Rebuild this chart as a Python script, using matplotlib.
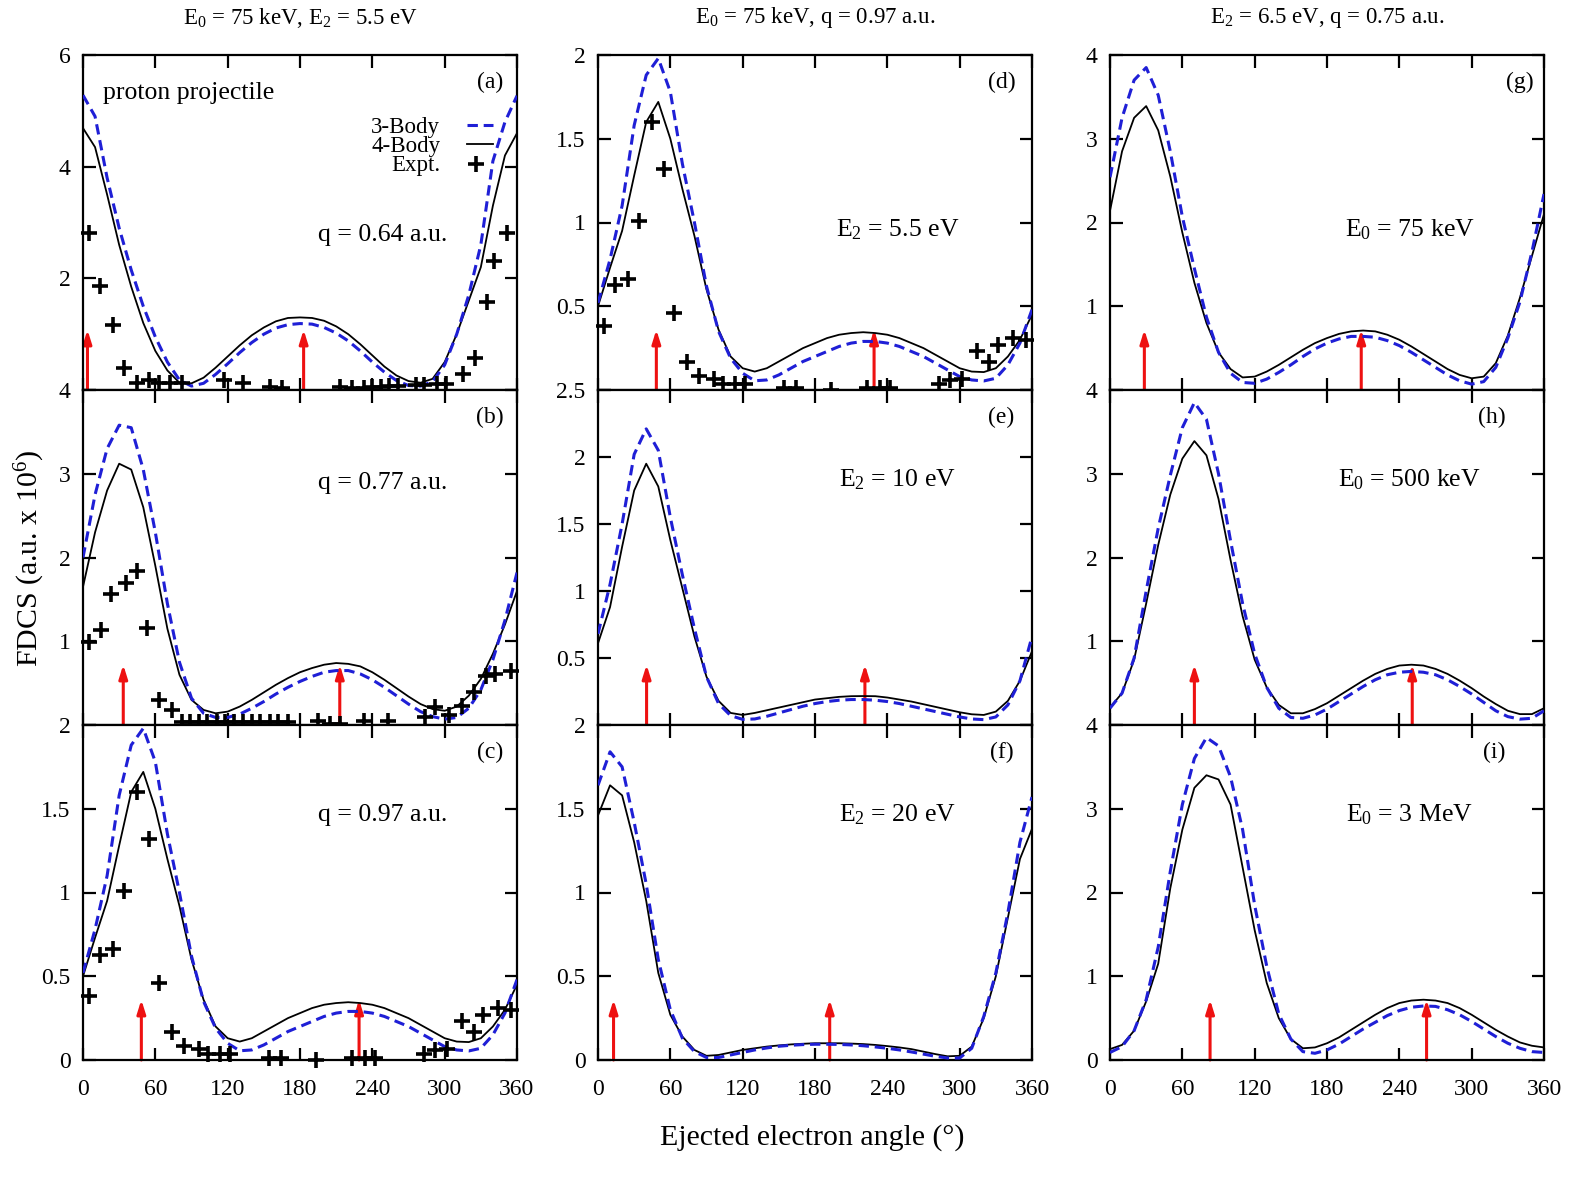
import matplotlib
matplotlib.use("Agg")
import matplotlib.pyplot as plt

plt.rcParams['font.family'] = ['Liberation Serif', 'DejaVu Serif']
plt.rcParams['mathtext.fontset'] = 'custom'
plt.rcParams['mathtext.rm'] = 'Liberation Serif'
plt.rcParams['mathtext.it'] = 'Liberation Serif:italic'

# angle grid of the theory curves (deg)
theta = list(range(0, 361, 10))

# ---- column 1 : E0 = 75 keV, E2 = 5.5 eV ----
body3_a = [5.28, 4.9, 3.8, 2.9, 2.15, 1.5, 0.95, 0.5, 0.18, 0.07, 0.12, 0.28, 0.47,
           0.67, 0.85, 1.0, 1.11, 1.17, 1.19, 1.18, 1.12, 1.02, 0.88, 0.7, 0.5,
           0.32, 0.17, 0.08, 0.07, 0.15, 0.45, 1.0, 1.7, 2.6, 4.1, 4.8, 5.27]
body4_a = [4.69, 4.35, 3.5, 2.6, 1.85, 1.2, 0.7, 0.35, 0.13, 0.12, 0.22, 0.4, 0.6,
           0.8, 0.98, 1.12, 1.23, 1.29, 1.30, 1.29, 1.24, 1.14, 1.0, 0.82, 0.62,
           0.42, 0.26, 0.16, 0.13, 0.2, 0.5, 1.0, 1.6, 2.2, 3.3, 4.2, 4.6]
expt_a_x = [5, 14, 25, 34, 45, 55, 63, 72, 82, 117, 133, 155, 165, 213, 223, 233,
            240, 247, 254, 261, 276, 283, 294, 301, 315, 325, 335, 341, 352]
expt_a_y = [2.82, 1.86, 1.16, 0.39, 0.12, 0.18, 0.12, 0.12, 0.12, 0.18, 0.12, 0.06,
            0.03, 0.06, 0.03, 0.03, 0.06, 0.06, 0.07, 0.07, 0.09, 0.09, 0.1, 0.1,
            0.28, 0.57, 1.58, 2.31, 2.82]

body3_b = [2.0, 2.75, 3.3, 3.58, 3.55, 3.05, 2.3, 1.45, 0.75, 0.32, 0.14, 0.09, 0.09,
           0.13, 0.2, 0.28, 0.37, 0.45, 0.52, 0.58, 0.63, 0.65, 0.65, 0.61, 0.54,
           0.45, 0.35, 0.25, 0.16, 0.1, 0.07, 0.09, 0.2, 0.42, 0.78, 1.25, 1.82]
body4_b = [1.65, 2.3, 2.8, 3.12, 3.05, 2.6, 1.9, 1.15, 0.6, 0.3, 0.18, 0.14, 0.16,
           0.22, 0.3, 0.39, 0.48, 0.56, 0.63, 0.68, 0.72, 0.74, 0.73, 0.7, 0.63,
           0.54, 0.44, 0.34, 0.25, 0.19, 0.17, 0.22, 0.35, 0.55, 0.85, 1.2, 1.6]
expt_b_x = [5, 15, 23, 36, 45, 53, 63, 74, 82, 89, 96, 103, 111, 118, 125, 133, 140,
            147, 155, 162, 170, 195, 205, 213, 233, 253, 284, 292, 304, 314, 324,
            334, 342, 355]
expt_b_y = [0.99, 1.13, 1.56, 1.69, 1.84, 1.16, 0.30, 0.18, 0.03, 0.03, 0.03, 0.03,
            0.03, 0.03, 0.03, 0.03, 0.03, 0.03, 0.03, 0.03, 0.03, 0.05, 0.01, 0.01,
            0.05, 0.05, 0.09, 0.21, 0.12, 0.23, 0.39, 0.59, 0.61, 0.65]

body3_c = [0.52, 0.78, 1.1, 1.58, 1.88, 1.98, 1.78, 1.35, 1.0, 0.62, 0.35, 0.19, 0.1,
           0.055, 0.06, 0.09, 0.13, 0.17, 0.2, 0.23, 0.26, 0.28, 0.29, 0.29, 0.28,
           0.26, 0.23, 0.2, 0.16, 0.12, 0.08, 0.06, 0.054, 0.07, 0.15, 0.28, 0.48]
body4_c = [0.5, 0.73, 0.95, 1.28, 1.6, 1.72, 1.5, 1.2, 0.92, 0.6, 0.36, 0.2, 0.13,
           0.11, 0.13, 0.17, 0.21, 0.25, 0.28, 0.31, 0.33, 0.34, 0.345, 0.34, 0.33,
           0.31, 0.28, 0.25, 0.21, 0.17, 0.13, 0.11, 0.107, 0.13, 0.2, 0.3, 0.45]
expt_c_x = [5, 14, 25, 34, 45, 55, 63, 74, 84, 96, 104, 114, 122, 154, 164, 193, 223,
            234, 242, 283, 292, 302, 314, 324, 332, 344, 355]
expt_c_y = [0.38, 0.625, 0.66, 1.01, 1.6, 1.32, 0.46, 0.167, 0.084, 0.068, 0.034,
            0.034, 0.034, 0.014, 0.014, 0.0, 0.014, 0.014, 0.014, 0.034, 0.06, 0.068,
            0.23, 0.167, 0.267, 0.31, 0.30]

# ---- column 2 : E0 = 75 keV, q = 0.97 a.u. ----
body3_d, body4_d = body3_c, body4_c
expt_d_x, expt_d_y = expt_c_x, expt_c_y

body3_e = [0.68, 1.05, 1.5, 2.02, 2.21, 2.05, 1.55, 1.12, 0.72, 0.36, 0.16, 0.07, 0.042,
           0.045, 0.065, 0.09, 0.115, 0.14, 0.16, 0.175, 0.185, 0.19, 0.19, 0.185,
           0.175, 0.16, 0.14, 0.12, 0.1, 0.08, 0.06, 0.045, 0.04, 0.06, 0.15, 0.33, 0.66]
body4_e = [0.61, 0.88, 1.33, 1.75, 1.95, 1.78, 1.38, 1.02, 0.66, 0.36, 0.18, 0.09,
           0.075, 0.09, 0.11, 0.13, 0.15, 0.17, 0.19, 0.2, 0.21, 0.215, 0.216, 0.215,
           0.205, 0.19, 0.175, 0.155, 0.135, 0.115, 0.095, 0.08, 0.075, 0.1, 0.18,
           0.33, 0.55]

body3_f = [1.64, 1.84, 1.75, 1.42, 1.05, 0.6, 0.3, 0.13, 0.05, 0.015, 0.015, 0.03,
           0.045, 0.06, 0.072, 0.082, 0.088, 0.092, 0.094, 0.094, 0.093, 0.09, 0.085,
           0.078, 0.07, 0.06, 0.048, 0.035, 0.022, 0.012, 0.012, 0.07, 0.26, 0.52,
           0.88, 1.3, 1.57]
body4_f = [1.46, 1.64, 1.58, 1.3, 0.95, 0.52, 0.27, 0.14, 0.06, 0.025, 0.03, 0.045,
           0.06, 0.07, 0.08, 0.087, 0.093, 0.097, 0.1, 0.1, 0.1, 0.098, 0.095, 0.09,
           0.083, 0.075, 0.065, 0.05, 0.035, 0.022, 0.025, 0.08, 0.25, 0.5, 0.85,
           1.2, 1.38]

# ---- column 3 : E2 = 6.5 eV, q = 0.75 a.u. ----
body3_g = [2.54, 3.25, 3.7, 3.85, 3.52, 2.85, 2.07, 1.45, 0.87, 0.45, 0.2, 0.09, 0.08,
           0.13, 0.21, 0.3, 0.4, 0.49, 0.56, 0.61, 0.64, 0.64, 0.63, 0.59, 0.53,
           0.45, 0.36, 0.27, 0.18, 0.11, 0.07, 0.1, 0.27, 0.62, 1.05, 1.65, 2.34]
body4_g = [2.14, 2.85, 3.25, 3.39, 3.1, 2.55, 1.88, 1.28, 0.8, 0.45, 0.25, 0.15, 0.16,
           0.22, 0.3, 0.39, 0.48, 0.56, 0.62, 0.67, 0.7, 0.71, 0.7, 0.66, 0.6, 0.52,
           0.43, 0.34, 0.25, 0.18, 0.14, 0.16, 0.32, 0.65, 1.1, 1.6, 2.1]

body3_h = [0.2, 0.38, 0.8, 1.6, 2.35, 2.98, 3.55, 3.85, 3.65, 3.0, 2.2, 1.45, 0.85,
           0.45, 0.2, 0.09, 0.08, 0.12, 0.19, 0.28, 0.37, 0.46, 0.54, 0.6, 0.63,
           0.64, 0.63, 0.6, 0.54, 0.46, 0.37, 0.27, 0.17, 0.1, 0.07, 0.08, 0.17]
body4_h = [0.21, 0.38, 0.78, 1.45, 2.15, 2.75, 3.18, 3.39, 3.22, 2.7, 1.97, 1.3, 0.78,
           0.45, 0.24, 0.14, 0.14, 0.19, 0.26, 0.35, 0.44, 0.53, 0.61, 0.67, 0.71,
           0.72, 0.71, 0.67, 0.61, 0.53, 0.44, 0.34, 0.25, 0.17, 0.13, 0.13, 0.2]

body3_i = [0.09, 0.16, 0.35, 0.72, 1.35, 2.25, 3.05, 3.6, 3.85, 3.75, 3.38, 2.75, 1.85,
           1.12, 0.55, 0.25, 0.1, 0.08, 0.12, 0.19, 0.28, 0.37, 0.45, 0.53, 0.59,
           0.63, 0.645, 0.64, 0.6, 0.54, 0.46, 0.37, 0.28, 0.2, 0.14, 0.1, 0.09]
body4_i = [0.13, 0.18, 0.35, 0.7, 1.15, 2.05, 2.75, 3.25, 3.4, 3.35, 3.05, 2.3, 1.55,
           0.92, 0.5, 0.25, 0.14, 0.15, 0.2, 0.27, 0.36, 0.45, 0.54, 0.62, 0.68,
           0.71, 0.72, 0.71, 0.68, 0.62, 0.54, 0.45, 0.36, 0.28, 0.21, 0.17, 0.15]

# binary / recoil peak directions (red arrows)
arrows = {'a': (3.7, 183), 'b': (33.4, 213), 'c': (48.4, 229), 'd': (48.4, 229),
          'e': (40.3, 221.4), 'f': (12.9, 192.2), 'g': (28.5, 208.4),
          'h': (70, 250.7), 'i': (83, 262.6)}

panels = [
    # letter, row, col, 3-body, 4-body, expt x, expt y, ymax, ystep, note, note y, label x
    ('a', 0, 0, body3_a, body4_a, expt_a_x, expt_a_y, 6, 2, 'q = 0.64 a.u.', 0.463, 0.938),
    ('b', 1, 0, body3_b, body4_b, expt_b_x, expt_b_y, 4, 1, 'q = 0.77 a.u.', 0.722, 0.938),
    ('c', 2, 0, body3_c, body4_c, expt_c_x, expt_c_y, 2, 0.5, 'q = 0.97 a.u.', 0.731, 0.938),
    ('d', 0, 1, body3_d, body4_d, expt_d_x, expt_d_y, 2, 0.5, r'E$_2$ = 5.5 eV', 0.478, 0.93),
    ('e', 1, 1, body3_e, body4_e, None, None, 2.5, 0.5, r'E$_2$ = 10 eV', 0.731, 0.93),
    ('f', 2, 1, body3_f, body4_f, None, None, 2, 0.5, r'E$_2$ = 20 eV', 0.731, 0.93),
    ('g', 0, 2, body3_g, body4_g, None, None, 4, 1, r'E$_0$ = 75 keV', 0.478, 0.945),
    ('h', 1, 2, body3_h, body4_h, None, None, 4, 1, r'E$_0$ = 500 keV', 0.731, 0.88),
    ('i', 2, 2, body3_i, body4_i, None, None, 4, 1, r'E$_0$ = 3 MeV', 0.731, 0.885),
]

col_titles = [r'E$_0$ = 75 keV, E$_2$ = 5.5 eV', r'E$_0$ = 75 keV, q = 0.97 a.u.',
              r'E$_2$ = 6.5 eV, q = 0.75 a.u.']

W, H = 1574, 1188
fig = plt.figure(figsize=(W / 100, H / 100), dpi=100)
col_left = [83, 598, 1110]
row_top = [55, 390, 725]
ax_w, ax_h = 434, 335

blue = '#1f1fd6'
dash = (0, (3.4, 1.9))

for letter, r, c, b3, b4, ex, ey, ymax, ystep, note, note_y, lab_x in panels:
    ax = fig.add_axes([col_left[c] / W, 1 - (row_top[r] + ax_h) / H, ax_w / W, ax_h / H])
    ax.plot(theta, b4, color='black', lw=1.3, zorder=3)
    ax.plot(theta, b3, color=blue, lw=2.2, ls=dash, zorder=4)
    if ex is not None:
        ax.plot(ex, ey, ls='none', marker='+', ms=11, mew=2.6, color='black',
                clip_on=False, zorder=5)
    for xa in arrows[letter]:
        ax.annotate('', xy=(xa, 0.18), xytext=(xa, 0.0),
                    xycoords=ax.get_xaxis_transform(),
                    arrowprops=dict(arrowstyle='-|>,head_length=0.8,head_width=0.25',
                                    color='#ee1111', lw=2.2, shrinkA=0, shrinkB=0),
                    zorder=2)
    nt = int(round(ymax / ystep))
    yt = [k * ystep for k in range(nt + 1)]
    ax.set_xticks(list(range(0, 361, 60)))
    ax.set_yticks(yt)
    if r < 2:
        ax.set_xticklabels([])
        ax.set_yticklabels(['' if t == 0 else '%g' % t for t in yt])
    else:
        ax.set_yticklabels(['%g' % t for t in yt])
        ax.tick_params(axis='x', pad=14)
    ax.set_xlim(0, 360)
    ax.set_ylim(0, ymax)
    ax.tick_params(direction='in', length=9, width=1.6, top=True, right=True,
                   labelsize=17)
    ax.tick_params(axis='y', pad=9)
    for s in ax.spines.values():
        s.set_linewidth(1.6)
    ax.text(lab_x, 0.919, '(%s)' % letter, transform=ax.transAxes, fontsize=17,
            ha='center', va='center')
    ax.text(0.69, note_y, note, transform=ax.transAxes, fontsize=18.5,
            ha='center', va='center')
    if letter == 'a':
        ax.text(0.046, 0.887, 'proton projectile', transform=ax.transAxes,
                fontsize=18.5, ha='left', va='center')
        ax.text(0.823, 0.785, '3-Body', transform=ax.transAxes, fontsize=16.5,
                ha='right', va='center')
        ax.text(0.823, 0.727, '4-Body', transform=ax.transAxes, fontsize=16.5,
                ha='right', va='center')
        ax.text(0.823, 0.669, 'Expt.', transform=ax.transAxes, fontsize=16.5,
                ha='right', va='center')
        ax.plot([0.885, 0.945], [0.79, 0.79], transform=ax.transAxes, color=blue,
                lw=2.2, ls=dash)
        ax.plot([0.885, 0.945], [0.735, 0.735], transform=ax.transAxes,
                color='black', lw=1.3)
        ax.plot([0.905], [0.675], transform=ax.transAxes, marker='+', ms=11,
                mew=2.6, color='black', ls='none')
    if r == 0:
        fig.text((col_left[c] + ax_w / 2) / W, 1 - 18 / H, col_titles[c],
                 fontsize=16.5, ha='center', va='center')

fig.text(30 / W, 0.53, r'FDCS (a.u. x 10$^6$)', rotation=90, fontsize=21.5,
         ha='center', va='center')
fig.text(812 / W, 1 - 1138 / H, 'Ejected electron angle (°)', fontsize=21.5,
         ha='center', va='center')

fig.savefig('out.png', dpi=100)
